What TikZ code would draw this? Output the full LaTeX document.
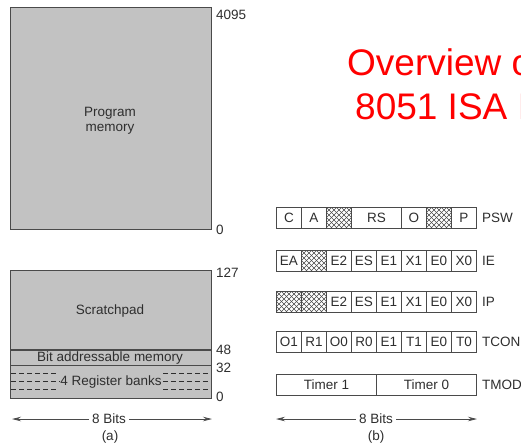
\documentclass[tikz,border=0pt]{standalone}
\usepackage{fontspec}
\setmainfont{Liberation Sans}
\usetikzlibrary{arrows.meta}
\definecolor{memgray}{HTML}{C2C2C2}
\definecolor{edge}{HTML}{4A4A4A}
\definecolor{txt}{HTML}{2E2E2E}
\definecolor{titlered}{HTML}{FF0000}
\begin{document}
\begin{tikzpicture}[x=1pt,y=-1pt,
  mem/.style={draw=edge, fill=memgray, line width=1.3pt},
  lbl/.style={text=txt, font=\fontsize{13.5}{15.5}\selectfont, inner sep=0pt},
  cell/.style={draw=edge, fill=white, line width=0.9pt, minimum height=21pt,
    minimum width=25pt, inner sep=0pt, anchor=north west, text=txt,
    font=\fontsize{13.5}{15.5}\selectfont},
  hatch/.style={cell, path picture={
    \foreach \k in {-30,-25,...,55}{
      \draw[edge, line width=0.55pt] ([xshift=\k pt]path picture bounding box.north west) -- ++(24,24);
      \draw[edge, line width=0.55pt] ([xshift=\k pt]path picture bounding box.north west) -- ++(-24,24);
    }}},
  regline/.style={draw=txt, line width=1pt, dash pattern=on 5pt off 3pt},
  arr/.style={draw=edge, line width=0.8pt, -{Stealth[length=9pt,width=4.5pt]}},
  title/.style={text=titlered, font=\fontsize{37}{44}\selectfont, inner sep=0pt, anchor=base west}
]
\useasboundingbox (0,0) rectangle (521,445);
\clip (0,0) rectangle (521,445);

% ---------- (a) ----------
\node[mem, draw, minimum width=201pt, minimum height=222pt, anchor=north west, inner sep=0pt] (prog) at (10,7) {};
\node[lbl, align=center] (progt) at (110,121) {Program\\memory};
\node[lbl, anchor=north west] (l4095) at (216,10) {4095};
\node[lbl, anchor=west] (l0a) at (216,230) {0};

\node[mem, draw, minimum width=201pt, minimum height=128pt, anchor=north west, inner sep=0pt] (data) at (10,270) {};
\coordinate (c48L) at (10,350); \coordinate (c48R) at (211,350);
\coordinate (c32L) at (10,365.5); \coordinate (c32R) at (211,365.5);
\draw[edge, line width=1.3pt] (c48L) -- (c48R);
\draw[edge, line width=1.3pt] (c32L) -- (c32R);
\node[lbl] (scratch) at (110,311) {Scratchpad};
\node[lbl] (bitaddr) at (110,358) {Bit addressable memory};
\node[lbl, fill=memgray, inner xsep=1pt] (regb) at (111,381.5) {4 Register banks};
\coordinate (d1L) at (11,373.5); \coordinate (d1a) at (58,373.5);
\coordinate (d2L) at (11,381.5);
\coordinate (d3L) at (11,389.5); \coordinate (d3a) at (58,389.5);
\coordinate (d1b) at (163,373.5); \coordinate (d1R) at (210,373.5);
\coordinate (d2R) at (210,381.5);
\coordinate (d3b) at (163,389.5); \coordinate (d3R) at (210,389.5);
\draw[regline] (d1L) -- (d1a);
\draw[regline] (d2L) -- (regb.west);
\draw[regline] (d3L) -- (d3a);
\draw[regline] (d1b) -- (d1R);
\draw[regline] (regb.east) -- (d2R);
\draw[regline] (d3b) -- (d3R);
\node[lbl, anchor=north west] (l127) at (216,268) {127};
\node[lbl, anchor=west] (l48) at (216,350) {48};
\node[lbl, anchor=west] (l32) at (216,368) {32};
\node[lbl, anchor=west] (l0b) at (216,397) {0};

\node[lbl, inner xsep=3pt, fill=white] (bitsa) at (109,419) {8 Bits};
\coordinate (aL) at (12,419); \coordinate (aR) at (212,419);
\draw[arr] (bitsa.west) -- (aL);
\draw[arr] (bitsa.east) -- (aR);
\node[lbl] (capa) at (110,437) {(a)};

% ---------- (b) ----------
% PSW
\node[cell] (psw1) at (276,207) {C};
\node[cell] (psw2) at (301,207) {A};
\node[hatch] (psw3) at (326,207) {};
\node[cell, minimum width=50pt] (psw4) at (351,207) {RS};
\node[cell] (psw5) at (401,207) {O};
\node[hatch] (psw6) at (426,207) {};
\node[cell] (psw7) at (451,207) {P};
\node[lbl, anchor=west] (lpsw) at (482,218) {PSW};
% IE
\node[cell] (ie1) at (276,250) {EA};
\node[hatch] (ie2) at (301,250) {};
\node[cell] (ie3) at (326,250) {E2};
\node[cell] (ie4) at (351,250) {ES};
\node[cell] (ie5) at (376,250) {E1};
\node[cell] (ie6) at (401,250) {X1};
\node[cell] (ie7) at (426,250) {E0};
\node[cell] (ie8) at (451,250) {X0};
\node[lbl, anchor=west] (lie) at (482,261) {IE};
% IP
\node[hatch] (ip1) at (276,291) {};
\node[hatch] (ip2) at (301,291) {};
\node[cell] (ip3) at (326,291) {E2};
\node[cell] (ip4) at (351,291) {ES};
\node[cell] (ip5) at (376,291) {E1};
\node[cell] (ip6) at (401,291) {X1};
\node[cell] (ip7) at (426,291) {E0};
\node[cell] (ip8) at (451,291) {X0};
\node[lbl, anchor=west] (lip) at (482,302) {IP};
% TCON
\node[cell] (tc1) at (276,331) {O1};
\node[cell] (tc2) at (301,331) {R1};
\node[cell] (tc3) at (326,331) {O0};
\node[cell] (tc4) at (351,331) {R0};
\node[cell] (tc5) at (376,331) {E1};
\node[cell] (tc6) at (401,331) {T1};
\node[cell] (tc7) at (426,331) {E0};
\node[cell] (tc8) at (451,331) {T0};
\node[lbl, anchor=west] (ltc) at (482,342) {TCON};
% TMOD
\node[cell, minimum width=100pt] (tm1) at (276,374) {Timer 1};
\node[cell, minimum width=100pt] (tm2) at (376,374) {Timer 0};
\node[lbl, anchor=west] (ltm) at (482,385) {TMOD};

\node[lbl, inner xsep=3pt, fill=white] (bitsb) at (376,419) {8 Bits};
\coordinate (bL) at (276,419); \coordinate (bR) at (477,419);
\draw[arr] (bitsb.west) -- (bL);
\draw[arr] (bitsb.east) -- (bR);
\node[lbl] (capb) at (376,437) {(b)};

% ---------- title ----------
\node[title] (t1) at (347,75) {Overview of};
\node[title] (t2) at (355,119) {8051 ISA I};
\end{tikzpicture}
\end{document}
